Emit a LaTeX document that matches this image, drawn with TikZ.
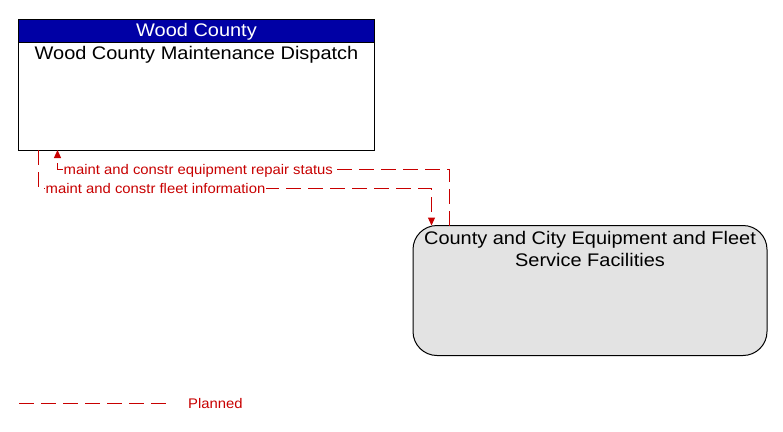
\documentclass[tikz,border=0pt]{standalone}
\usepackage{fontspec}
\setmainfont{Liberation Sans}
\newfontfamily\titlefont[FakeStretch=1.095]{Liberation Sans}
\newfontfamily\lblfont[FakeStretch=1.065]{Liberation Sans}
\usetikzlibrary{arrows.meta}
\definecolor{hdrblue}{RGB}{0,0,165}
\definecolor{boxgray}{RGB}{227,227,227}
\definecolor{flowred}{RGB}{200,0,0}
\tikzset{
  box/.style={draw=black, line width=1bp, inner sep=0pt, outer sep=0pt},
  hdrbox/.style={box, fill=hdrblue},
  titletext/.style={font=\titlefont\fontsize{18.3}{22}\selectfont, inner sep=0pt, anchor=base},
  flow/.style={color=flowred, line width=1.2bp, dash pattern=on 15bp off 7bp},
  flowarrow/.style={flow, -{Triangle[length=8bp,width=7bp]}},
  lbl/.style={font=\lblfont\fontsize{14}{16}\selectfont, text=flowred, fill=white, inner sep=1bp, anchor=base west},
}
\begin{document}
\begin{tikzpicture}[x=1bp,y=-1bp]
\useasboundingbox (0,0) rectangle (783,431);
% elements (shapes first)
\node[box, minimum width=355bp, minimum height=131bp] (wcmd) at (196.5,84.5) {};
\node[hdrbox, minimum width=355bp, minimum height=23bp] (hdr) at (196.5,30.5) {};
\node[box, fill=boxgray, rounded corners=24bp, minimum width=354bp, minimum height=130bp] (ccef) at (590,290.5) {};
% connectors
\coordinate (r1) at (449.5,169.5);
\coordinate (l1) at (57.5,169.5);
\coordinate (l2) at (38.5,188.5);
\coordinate (r2) at (431.5,188.5);
\coordinate (lega) at (19,403.5);
\coordinate (legb) at (170,403.5);
\begin{scope}[color=flowred]
\draw[flowarrow] (ccef.north -| r1) -- (r1) -- (l1) -- (wcmd.south -| l1);
\draw[flowarrow] (wcmd.south -| l2) -- (l2) -- (r2) -- (ccef.north -| r2);
\draw[flow] (lega) -- (legb);
\end{scope}
% texts
\node[titletext, text=white] (hdrtext) at (196.5,36.5) {Wood County};
\node[titletext] (wcmdtext) at (196.5,59.5) {Wood County Maintenance Dispatch};
\node[titletext] (ccefa) at (590,244.3) {County and City Equipment and Fleet};
\node[titletext] (ccefb) at (590,266.5) {Service Facilities};
\node[lbl] (lab1) at (62.5,174.5) {maint and constr equipment repair status};
\node[lbl] (lab2) at (44.5,193.5) {maint and constr fleet information};
\node[font=\lblfont\fontsize{14}{16}\selectfont, text=flowred, inner sep=0pt, anchor=base west] (legtext) at (188,408.5) {Planned};
\end{tikzpicture}
\end{document}
